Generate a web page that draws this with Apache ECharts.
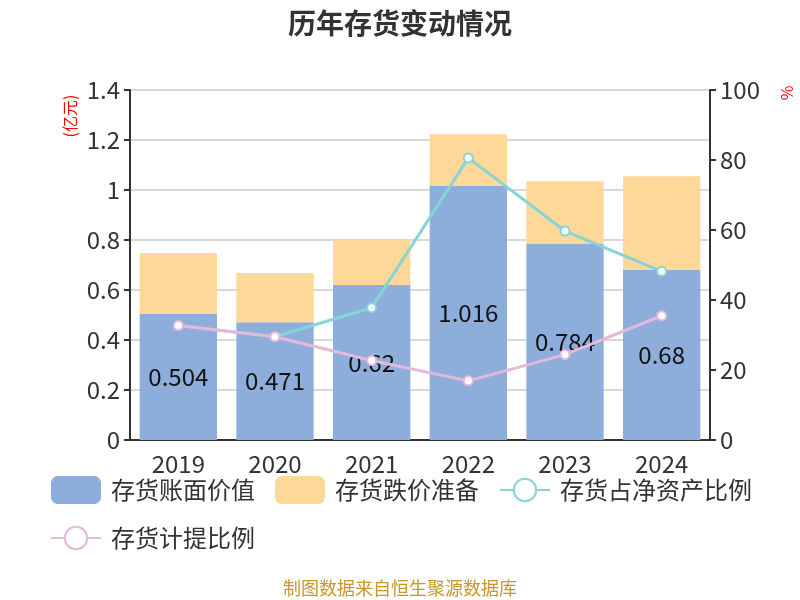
<!DOCTYPE html>
<html>
<head>
<meta charset="utf-8">
<script src="https://cdn.jsdelivr.net/npm/echarts@6/dist/echarts.min.js"></script>
<style>
  html, body { margin: 0; padding: 0; background: #fff; }
  #chart { width: 800px; height: 600px; }
</style>
</head>
<body>
<div id="chart"></div>
<script>
var years = ['2019', '2020', '2021', '2022', '2023', '2024'];
var bookValue = [0.504, 0.471, 0.62, 1.016, 0.784, 0.68];
var reserve = [0.244, 0.197, 0.18, 0.207, 0.251, 0.375];
var netAssetRatio = [32.7, 29.5, 37.8, 80.6, 59.7, 48.2];
var provisionRatio = [32.7, 29.5, 22.7, 16.9, 24.4, 35.5];
var leftTicks = { min: 0, max: 1.4, interval: 0.2 };
var rightTicks = { min: 0, max: 100, interval: 20 };

var FONT = '"Noto Sans CJK SC", "Noto Sans", sans-serif';
var chart = echarts.init(document.getElementById('chart'));

var option = {
  animation: false,
  textStyle: { fontFamily: FONT },
  title: {
    text: '历年存货变动情况',
    left: 'center',
    top: 4,
    textStyle: { fontSize: 28, fontWeight: 'bold', color: '#333', fontFamily: FONT }
  },
  grid: { left: 130, right: 90, top: 90, bottom: 160 },
  legend: {
    left: 45,
    top: 471,
    width: 745,
    itemWidth: 50,
    itemHeight: 28,
    itemGap: 20,
    textStyle: { fontSize: 24, color: '#333', fontFamily: FONT, padding: [0, 0, 0, 5] },
    data: [
      { name: '存货账面价值', icon: 'roundRect' },
      { name: '存货跌价准备', icon: 'roundRect' },
      { name: '存货占净资产比例' },
      { name: '存货计提比例' }
    ]
  },
  xAxis: {
    type: 'category',
    data: years,
    axisLine: { lineStyle: { color: '#333', width: 2 } },
    axisTick: { length: 6, lineStyle: { width: 2 } },
    axisLabel: { fontSize: 24, color: '#333', margin: 12 }
  },
  yAxis: [
    {
      type: 'value',
      min: leftTicks.min,
      max: leftTicks.max,
      interval: leftTicks.interval,
      axisLine: { show: true, lineStyle: { color: '#333', width: 2 } },
      axisTick: { show: true, length: 6, lineStyle: { width: 2 } },
      axisLabel: { fontSize: 24, color: '#333', margin: 10 },
      splitLine: { lineStyle: { color: '#ccc', width: 1.5 } }
    },
    {
      type: 'value',
      min: rightTicks.min,
      max: rightTicks.max,
      interval: rightTicks.interval,
      axisLine: { show: true, lineStyle: { color: '#333', width: 2 } },
      axisTick: { show: true, length: 6, lineStyle: { width: 2 } },
      axisLabel: { fontSize: 24, color: '#333', margin: 10 },
      splitLine: { show: false }
    }
  ],
  graphic: [
    {
      type: 'text', x: 70, y: 116, rotation: Math.PI / 2,
      style: { text: '(亿元)', fill: '#f00', fontSize: 16, fontFamily: FONT, align: 'center', verticalAlign: 'middle' }
    },
    {
      type: 'text', x: 787, y: 93, rotation: Math.PI / 2,
      style: { text: '%', fill: '#f00', fontSize: 16, fontFamily: FONT, align: 'center', verticalAlign: 'middle' }
    },
    {
      type: 'text', left: 'center', top: 579,
      style: { text: '制图数据来自恒生聚源数据库', fill: '#c8962a', fontSize: 18, fontFamily: FONT }
    }
  ],
  series: [
    {
      name: '存货账面价值',
      type: 'bar',
      stack: 'inv',
      barWidth: '80%',
      data: bookValue,
      itemStyle: { color: '#8dadda' },
      label: { show: true, position: 'inside', fontSize: 24, color: '#111' }
    },
    {
      name: '存货跌价准备',
      type: 'bar',
      stack: 'inv',
      data: reserve,
      itemStyle: { color: '#fed899' }
    },
    {
      name: '存货占净资产比例',
      type: 'line',
      yAxisIndex: 1,
      data: netAssetRatio,
      symbol: 'circle',
      symbolSize: 9,
      lineStyle: { color: '#86d4d6', width: 3 },
      itemStyle: { color: '#fff', borderColor: '#86d4d6', borderWidth: 2 }
    },
    {
      name: '存货计提比例',
      type: 'line',
      yAxisIndex: 1,
      data: provisionRatio,
      symbol: 'circle',
      symbolSize: 9,
      lineStyle: { color: '#e6b8da', width: 3 },
      itemStyle: { color: '#fff', borderColor: '#e6b8da', borderWidth: 2 }
    }
  ]
};

chart.setOption(option);
</script>
</body>
</html>
